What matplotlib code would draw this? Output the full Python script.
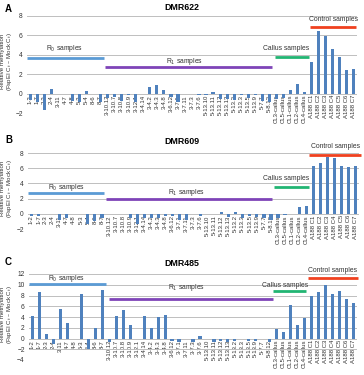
import matplotlib.pyplot as plt
import numpy as np

plt.rcParams['font.family'] = ['Liberation Sans', 'DejaVu Sans']

# sample names (x categories)
r0_samples = ['1-2', '1-7', '2-3', '2-4', '3-11', '4-7', '4-8', '5-3', '5-4', '8-6', '8-7']
r1_samples = ['3-10.12', '3-10.7', '3-10.8', '3-10.9', '3-12.1', '3-4.14', '3-4.2', '3-4.3',
              '3-4.8', '3-6.12', '3-7.1', '3-7.11', '3-7.3', '3-7.6', '5-13.10', '5-13.11',
              '5-13.12', '5-13.13', '5-13.2', '5-13.3', '5-13.5', '5-13.9', '5-7.7', '5-8.12']
callus_samples = ['CL3-callus', 'CL5-callus', 'CL1-callus', 'CL2-callus', 'CL4-callus']
control_samples = ['A188 C1', 'A188 C2', 'A188 C3', 'A188 C4', 'A188 C5', 'A188 C6', 'A188 C7']
categories = r0_samples + r1_samples + callus_samples + control_samples

# relative methylation (FspEI Ct - Mock Ct)
dmr622 = [-0.7, -0.85, -1.65, 0.45, -0.05, -0.05, -0.8, -0.85, 0.25, -0.05, -0.9,
          -0.5, -0.4, -0.8, -0.1, -0.9, -0.05, 0.65, 0.85, 0.4, -0.35, -0.9,
          -0.05, -0.05, -0.15, -0.1, 0.15, -0.6, -0.6, -0.7, -0.1, -0.5, -0.1, -0.8, -0.9,
          -0.6, -0.5, 0.35, 0.95, 0.15,
          3.3, 6.5, 5.95, 4.6, 3.75, 2.4, 2.5]
dmr609 = [-0.3, -0.3, 0.0, 0.0, -0.75, -0.6, 0.0, 0.0, -1.3, -0.95, -0.6,
          -0.05, -0.05, 0.0, -0.6, -1.3, -0.6, -0.5, -0.5, -0.3, -0.3, -0.8,
          -0.8, 0.0, -0.3, 0.0, 0.0, 0.3, -0.4, 0.2, -0.5, -0.3, -0.4, -0.6, -0.8,
          -0.5, -0.2, 0.0, 0.95, 1.0,
          6.35, 6.7, 7.45, 7.4, 6.35, 6.1, 6.3]
dmr485 = [4.2, 8.7, 0.85, -1.0, 5.4, 2.8, 0.0, 8.3, -1.9, 2.0, 9.0,
          -0.6, 4.25, 5.25, 2.45, 0.0, 4.2, 1.95, 3.95, 4.4, -0.4, -0.6,
          0.0, -0.6, 0.5, 0.0, -0.6, -0.5, -0.6, -0.5, 0.0, -0.5, -0.4, 0.0, -0.6,
          1.7, 1.3, 6.3, 2.6, 3.9,
          7.9, 8.6, 10.0, 8.2, 8.9, 7.3, 6.6]

group_names = ['R$_0$ samples', 'R$_1$ samples', 'Callus samples', 'Control samples']
group_colors = ['#5b9bd5', '#7e44b8', '#22b573', '#f0411f']

# layout per panel: axes box in px, y range, group line (x0, x1, y), text (x, y)
panels = [
    dict(letter='A', title='DMR622', vals=dmr622, box=(27, 357, 16, 113), ylim=(-2, 8),
         lines=[(-0.5, 10.5, 3.7), (10.6, 34.4, 2.7), (34.8, 39.7, 3.8), (39.8, 46.4, 6.9)],
         texts=[(4.9, 4.6), (22.0, 3.35), (36.4, 4.6), (43.2, 7.6)], ty=8, ly=9),
    dict(letter='B', title='DMR609', vals=dmr609, box=(28, 359, 153, 229), ylim=(-2, 8),
         lines=[(-0.5, 10.3, 2.7), (10.6, 34.1, 1.95), (34.5, 39.4, 3.55), (39.4, 46.8, 7.8)],
         texts=[(4.9, 3.45), (22.0, 2.85), (36.2, 4.6), (43.2, 8.8)], ty=141, ly=140),
    dict(letter='C', title='DMR485', vals=dmr485, box=(29, 357, 274, 360), ylim=(-4, 12),
         lines=[(-0.5, 10.5, 10.1), (10.9, 34.4, 7.4), (34.4, 39.2, 8.9), (39.5, 46.6, 11.2)],
         texts=[(4.9, 11.2), (22.0, 9.4), (36.2, 9.9), (43.0, 12.6)], ty=263, ly=262),
]

W, H = 364, 375
fig = plt.figure(figsize=(W / 100, H / 100), dpi=100)
x = np.arange(len(categories))

for p in panels:
    l, r, t, b = p['box']
    ax = fig.add_axes([l / W, 1 - b / H, (r - l) / W, (b - t) / H])
    ax.bar(x, p['vals'], width=0.45, color='#4f81bd', zorder=2)
    ax.set_xlim(-0.5, len(categories) - 0.5)
    ax.set_ylim(*p['ylim'])
    ax.set_yticks(np.arange(p['ylim'][0], p['ylim'][1] + 1, 2))
    ax.grid(axis='y', color='#bfbfbf', linewidth=0.7, zorder=0)
    ax.set_axisbelow(True)
    for s in ['top', 'right', 'left']:
        ax.spines[s].set_visible(False)
    ax.spines['bottom'].set_position(('data', 0))
    ax.spines['bottom'].set_visible(False)
    ax.set_xticks(x)
    ax.set_xticklabels(categories, rotation=90, fontsize=4.3, color='#333333')
    ax.tick_params(axis='x', length=0, pad=1)
    ax.tick_params(axis='y', length=0, pad=3, labelsize=4.8, labelcolor='#333333')
    ax.set_ylabel('Relative methylation\n(FspEI C$_t$ \u2013 Mock C$_t$)', fontsize=4.4,
                  color='#333333', linespacing=0.95)
    ax.yaxis.set_label_coords((14 - l) / (r - l), 0.53)

    for (x0, x1, yy), (tx, tyv), name, col in zip(p['lines'], p['texts'], group_names, group_colors):
        ax.plot([x0, x1], [yy, yy], color=col, linewidth=2.0, solid_capstyle='butt',
                clip_on=False, zorder=3)
        ax.text(tx, tyv, name, fontsize=4.9, color='#333333', ha='center', va='center',
                clip_on=False)

    fig.text(182 / W, 1 - p['ty'] / H, p['title'], fontsize=6.4, fontweight='bold',
             ha='center', va='center')
    fig.text(5 / W, 1 - p['ly'] / H, p['letter'], fontsize=7, fontweight='bold',
             ha='left', va='center')

fig.savefig('out.png', dpi=100)
